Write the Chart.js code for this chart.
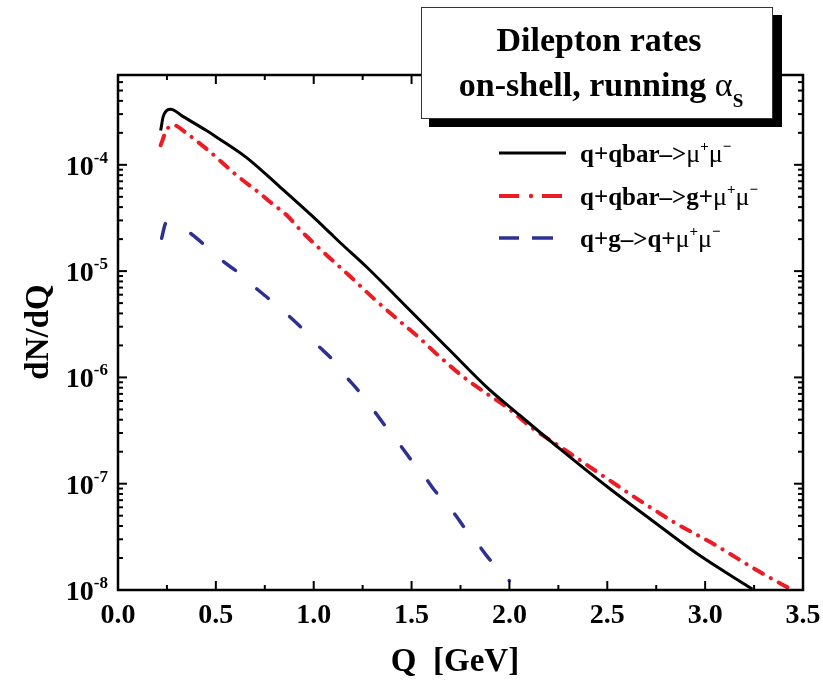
<!DOCTYPE html>
<html>
<head>
<meta charset="utf-8">
<script src="https://cdn.jsdelivr.net/npm/chart.js@4.4.1/dist/chart.umd.min.js"></script>
<style>
  html, body { margin: 0; padding: 0; background: #fff; }
  #wrap { width: 823px; height: 682px; }
</style>
</head>
<body>
<div id="wrap"><canvas id="rates" width="823" height="682"></canvas></div>
<script>
// values (Q in GeV, dN/dQ)
const qBlack = [0.218, 0.231, 0.269, 0.333, 0.452, 0.504, 0.657, 0.827, 0.996, 1.082, 1.133, 1.269, 1.413, 1.490, 1.694, 1.881, 2.051, 2.255, 2.510, 2.714, 2.969, 3.241];
const nBlack = [2.1e-4, 2.84e-4, 3.33e-4, 2.84e-4, 2.1e-4, 1.82e-4, 1.17e-4, 6.2e-5, 3.25e-5, 2.3e-5, 1.87e-5, 1.1e-5, 6.0e-6, 4.31e-6, 1.81e-6, 8.2e-7, 4.43e-7, 2.15e-7, 9.06e-8, 4.73e-8, 2.13e-8, 1.02e-8];

const qRed = [0.218, 0.248, 0.282, 0.350, 0.469, 0.605, 0.724, 0.776, 0.861, 0.940, 1.065, 1.184, 1.303, 1.422, 1.533, 1.643, 1.762, 1.881, 1.983, 2.119, 2.272, 2.510, 2.714, 2.850, 3.037, 3.276, 3.445];
const nRed = [1.53e-4, 2.12e-4, 2.37e-4, 1.98e-4, 1.33e-4, 8.0e-5, 5.4e-5, 4.5e-5, 3.37e-5, 2.35e-5, 1.42e-5, 9.0e-6, 5.6e-6, 3.6e-6, 2.41e-6, 1.57e-6, 1.02e-6, 7.1e-7, 5.3e-7, 3.32e-7, 2.15e-7, 1.08e-7, 6.08e-8, 4.24e-8, 2.75e-8, 1.49e-8, 1.0e-8];

const qBlue = [0.223, 0.245, 0.350, 0.432, 0.534, 0.614, 0.716, 0.789, 0.886, 0.949, 1.027, 1.090, 1.158, 1.213, 1.277, 1.325, 1.388, 1.435, 1.498, 1.549, 1.609, 1.660, 1.723, 1.770, 1.833, 1.881, 1.945, 2.000];
const nBlue = [2.04e-5, 2.82e-5, 2.4e-5, 1.83e-5, 1.25e-5, 9.7e-6, 6.64e-6, 5.15e-6, 3.6e-6, 2.79e-6, 1.95e-6, 1.51e-6, 1.05e-6, 8.1e-7, 5.8e-7, 4.4e-7, 3.08e-7, 2.4e-7, 1.67e-7, 1.3e-7, 9.06e-8, 7.0e-8, 5.1e-8, 3.86e-8, 2.8e-8, 2.13e-8, 1.54e-8, 1.22e-8];

const seriesNames = ['q+qbar–>', 'q+qbar–>g+', 'q+g–>q+'];
const xTicks = [0.0, 0.5, 1.0, 1.5, 2.0, 2.5, 3.0, 3.5];
const yTicks = [1e-8, 1e-7, 1e-6, 1e-5, 1e-4];
const yExps = ['-8', '-7', '-6', '-5', '-4'];

const RED = '#ec1c24';
const BLUE = '#2e3192';
const SERIF = '"Liberation Serif", "DejaVu Serif", serif';

function pts(qs, ns) {
    return qs.map((q, i) => ({ x: q, y: ns[i] }));
}

function seg(ctx, x1, y1, x2, y2) {
    ctx.beginPath();
    ctx.moveTo(x1, y1);
    ctx.lineTo(x2, y2);
    ctx.stroke();
}

// draws a run of text pieces: [text, font, dy]
function runText(ctx, parts, x, y, align) {
    let w = 0;
    parts.forEach(p => { ctx.font = p[1]; w += ctx.measureText(p[0]).width; });
    let cx = align === 'center' ? x - w / 2 : align === 'right' ? x - w : x;
    ctx.textAlign = 'left';
    ctx.textBaseline = 'alphabetic';
    parts.forEach(p => {
        ctx.font = p[1];
        ctx.fillText(p[0], cx, y + (p[2] || 0));
        cx += ctx.measureText(p[0]).width;
    });
}

function muPart(name) {
    return [
        [name, 'bold 25px ' + SERIF],
        ['μ', '26px ' + SERIF],
        ['+', 'bold 15px ' + SERIF, -11],
        ['μ', '26px ' + SERIF],
        ['−', 'bold 15px ' + SERIF, -11]
    ];
}

const decor = {
    id: 'decor',
    afterDatasetsDraw(chart) {
        const { ctx, chartArea: a, scales: { x, y } } = chart;
        ctx.save();
        ctx.fillStyle = '#000';
        ctx.strokeStyle = '#000';
        ctx.lineWidth = 2;

        // x ticks, top and bottom, pointing inward
        xTicks.forEach((v, i) => {
            const px = x.getPixelForValue(v);
            seg(ctx, px, a.bottom, px, a.bottom - 9);
            seg(ctx, px, a.top, px, a.top + 9);
            if (i < xTicks.length - 1) {
                const mx = x.getPixelForValue(v + 0.25);
                seg(ctx, mx, a.bottom, mx, a.bottom - 5);
                seg(ctx, mx, a.top, mx, a.top + 5);
            }
        });
        // y ticks, left and right
        yTicks.forEach(v => {
            const py = y.getPixelForValue(v);
            seg(ctx, a.left, py, a.left + 9, py);
            seg(ctx, a.right, py, a.right - 9, py);
            for (let k = 2; k <= 9; k++) {
                const mv = v * k;
                if (mv > y.max) break;
                const my = y.getPixelForValue(mv);
                seg(ctx, a.left, my, a.left + 5, my);
                seg(ctx, a.right, my, a.right - 5, my);
            }
        });

        ctx.lineWidth = 2.5;
        ctx.strokeRect(a.left, a.top, a.right - a.left, a.bottom - a.top);

        // tick labels
        ctx.font = 'bold 28px ' + SERIF;
        ctx.textAlign = 'center';
        ctx.textBaseline = 'alphabetic';
        xTicks.forEach(v => {
            ctx.fillText(v.toFixed(1), x.getPixelForValue(v), a.bottom + 33);
        });
        yTicks.forEach((v, i) => {
            const py = y.getPixelForValue(v);
            runText(ctx, [['10', 'bold 28px ' + SERIF, 0], [yExps[i], 'bold 17px ' + SERIF, -12]], a.left - 10, py + 10, 'right');
        });

        // axis titles
        ctx.font = 'bold 33px ' + SERIF;
        ctx.textAlign = 'center';
        ctx.fillText('Q  [GeV]', 455, 671);
        ctx.save();
        ctx.translate(48, 332);
        ctx.rotate(-Math.PI / 2);
        ctx.fillText('dN/dQ', 0, 0);
        ctx.restore();

        // legend
        const rows = [153, 196, 238];
        ctx.lineCap = 'butt';
        ctx.strokeStyle = '#000';
        ctx.lineWidth = 3;
        seg(ctx, 499, rows[0], 566, rows[0]);
        ctx.strokeStyle = RED;
        ctx.lineWidth = 4;
        seg(ctx, 499, rows[1], 519, rows[1]);
        seg(ctx, 542, rows[1], 562, rows[1]);
        ctx.fillStyle = RED;
        ctx.beginPath();
        ctx.arc(531, rows[1], 2.2, 0, Math.PI * 2);
        ctx.fill();
        ctx.strokeStyle = BLUE;
        ctx.lineWidth = 3.5;
        seg(ctx, 499, rows[2], 519, rows[2]);
        seg(ctx, 532, rows[2], 553, rows[2]);
        ctx.fillStyle = '#000';
        seriesNames.forEach((n, i) => runText(ctx, muPart(n), 580, rows[i] + 9, 'left'));

        // title box with drop shadow
        ctx.fillStyle = '#000';
        ctx.fillRect(429, 15, 353, 112);
        ctx.fillStyle = '#fff';
        ctx.fillRect(421, 7, 352, 112);
        ctx.strokeStyle = '#333';
        ctx.lineWidth = 1;
        ctx.strokeRect(421.5, 7.5, 351, 111);
        ctx.fillStyle = '#000';
        runText(ctx, [['Dilepton rates', 'bold 34px ' + SERIF]], 599, 51, 'center');
        runText(ctx, [
            ['on-shell, running ', 'bold 34px ' + SERIF],
            ['α', '34px ' + SERIF],
            ['S', 'bold 19px ' + SERIF, 11]
        ], 601, 96, 'center');

        ctx.restore();
    }
};

new Chart(document.getElementById('rates'), {
    type: 'line',
    data: {
        datasets: [
            {
                data: pts(qBlack, nBlack),
                borderColor: '#000',
                borderWidth: 3,
                cubicInterpolationMode: 'monotone',
                pointRadius: 0,
                clip: 0
            },
            {
                data: pts(qRed, nRed),
                borderColor: RED,
                borderWidth: 4,
                borderDash: [10, 9, 0.1, 9],
                borderCapStyle: 'round',
                cubicInterpolationMode: 'monotone',
                pointRadius: 0,
                clip: 0
            },
            {
                data: pts(qBlue, nBlue),
                borderColor: BLUE,
                borderWidth: 3.5,
                borderDash: [15, 28],
                borderCapStyle: 'round',
                cubicInterpolationMode: 'monotone',
                pointRadius: 0,
                clip: 0
            }
        ]
    },
    options: {
        responsive: false,
        animation: false,
        layout: { padding: { left: 118, top: 75, right: 20, bottom: 92 } },
        plugins: {
            legend: { display: false },
            tooltip: { enabled: false }
        },
        scales: {
            x: { type: 'linear', min: 0, max: 3.5, display: false },
            y: { type: 'logarithmic', min: 1e-8, max: 7e-4, display: false }
        }
    },
    plugins: [decor]
});
</script>
</body>
</html>
